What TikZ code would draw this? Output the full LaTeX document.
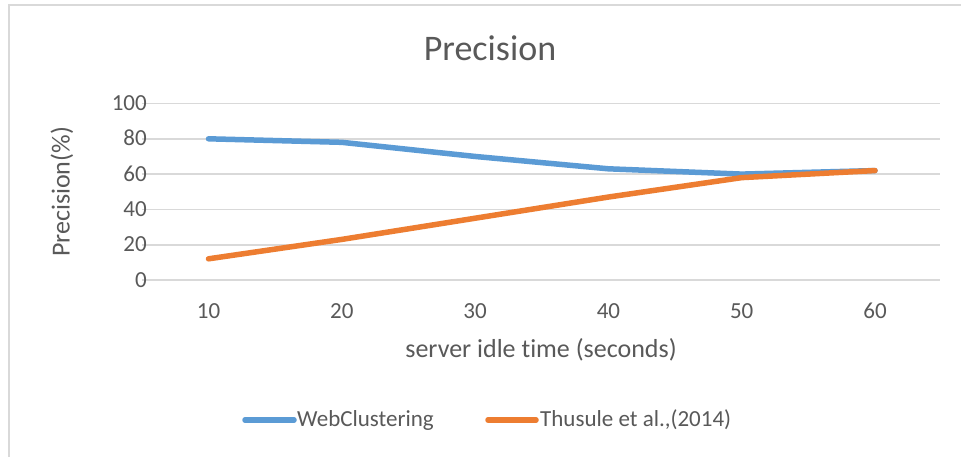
\documentclass[tikz,border=0pt]{standalone}
\usepackage{fontspec}
\setmainfont{Carlito}[Ligatures=NoCommon]
\definecolor{txt}{HTML}{595959}
\definecolor{gridc}{HTML}{D9D9D9}
\definecolor{blueline}{HTML}{5B9BD5}
\definecolor{orangeline}{HTML}{ED7D31}
\tikzset{
  gridline/.style={gridc, line width=1.6},
  ticklbl/.style={text=txt, inner sep=0pt, font=\fontsize{23}{27}\selectfont},
  axtitle/.style={text=txt, inner sep=0pt, font=\fontsize{26}{30}\selectfont},
  charttitle/.style={text=txt, inner sep=0pt, font=\fontsize{36}{42}\selectfont},
  legendlbl/.style={text=txt, inner sep=0pt, font=\fontsize{23}{27}\selectfont},
  series/.style={line width=5.5, line cap=round, line join=round},
}
\begin{document}
\begin{tikzpicture}[x=1pt,y=-1pt]
\useasboundingbox (0,0) rectangle (961,457);
\fill[white] (0,0) rectangle (961,457);
% chart border
\coordinate (bl) at (8.5,457);
\coordinate (tl) at (8.5,5);
\coordinate (tr) at (961,5);
\draw[gridc, line width=2] (bl) -- (tl) -- (tr);
% gridlines and y labels
\foreach \v/\n in {0/g0,20/g20,40/g40,60/g60,80/g80,100/g100}{
  \pgfmathsetmacro{\gy}{280-\v*1.765}
  \coordinate (\n l) at (142,\gy);
  \coordinate (\n r) at (940,\gy);
  \draw[gridline] (\n l) -- (\n r);
  \node[ticklbl, anchor=base east] (\n lbl) at (147,\gy+7) {\v};
}
% x labels
\foreach \i/\t in {1/10,2/20,3/30,4/40,5/50,6/60}{
  \pgfmathsetmacro{\px}{208.5+133.3*(\i-1)}
  \node[ticklbl, anchor=base] (x\i) at (\px,318) {\t};
}
% data
\foreach \i/\b/\o in {1/80/12,2/78/23,3/70/35,4/63/47,5/60/58,6/62/62}{
  \pgfmathsetmacro{\px}{208.5+133.3*(\i-1)}
  \coordinate (b\i) at (\px,280-\b*1.765);
  \coordinate (o\i) at (\px,280-\o*1.765);
}
\draw[series, blueline] (b1) -- (b2) -- (b3) -- (b4) -- (b5) -- (b6);
\draw[series, orangeline] (o1) -- (o2) -- (o3) -- (o4) -- (o5) -- (o6);
% titles
\node[charttitle] (title) at (490,48) {Precision};
\node[axtitle, rotate=90] (ytitle) at (62,192) {Precision(\%)};
\node[axtitle] (xtitle) at (541,350) {server idle time (seconds)};
% legend
\coordinate (lb1) at (245,420);
\coordinate (lb2) at (294,420);
\draw[series, blueline] (lb1) -- (lb2);
\node[legendlbl, anchor=west] (lbt) at (297,420) {WebClustering};
\coordinate (lo1) at (488,420);
\coordinate (lo2) at (536,420);
\draw[series, orangeline] (lo1) -- (lo2);
\node[legendlbl, anchor=west] (lot) at (540,420) {Thusule et al.,(2014)};
\end{tikzpicture}
\end{document}
